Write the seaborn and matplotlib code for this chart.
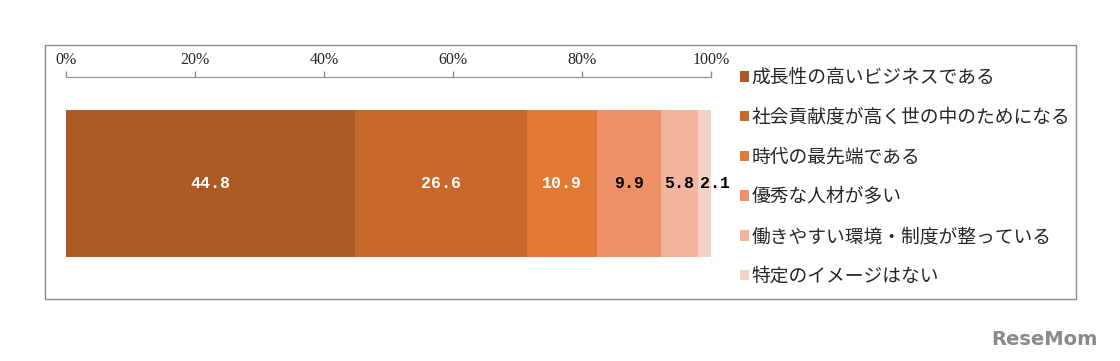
import matplotlib.pyplot as plt
import seaborn as sns
import numpy as np
from matplotlib.patches import Patch, Rectangle

categories = ["成長性の高いビジネスである", "社会貢献度が高く世の中のためになる", "時代の最先端である",
              "優秀な人材が多い", "働きやすい環境・制度が整っている", "特定のイメージはない"]
values = [44.8, 26.6, 10.9, 9.9, 5.8, 2.1]
colors = ["#AD5A24", "#C8692C", "#E07A35", "#EE9168", "#F2B69F", "#F6D2C6"]
label_colors = ["white", "white", "white", "black", "black", "black"]
label_shift = [0, 0, 0, 0, 0, 7]  # points; last label pushed right like the original
tick_labels = ["0%", "20%", "40%", "60%", "80%", "100%"]

sns.set_style("white")
plt.rcParams["font.family"] = ["Noto Sans CJK JP", "DejaVu Sans"]

fig = plt.figure(figsize=(11.2, 3.61), dpi=100)
# outer frame
fig.patches.append(Rectangle((45 / 1120, 1 - 299 / 361), (1076 - 45) / 1120, (299 - 45) / 361,
                             transform=fig.transFigure, fill=False, edgecolor="#8c8c8c", lw=1))

ax = fig.add_axes([66 / 1120, 1 - 290 / 361, (711 - 66) / 1120, (290 - 77) / 361])

cum = np.cumsum(values)
# stacked bar: draw cumulative totals from the largest down
for i in reversed(range(len(values))):
    sns.barplot(x=[cum[i]], y=[0], orient="h", color=colors[i], width=0.69,
                saturation=1, linewidth=0, edgecolor="none", ax=ax)

starts = cum - np.array(values)
for v, s, c, dx in zip(values, starts, label_colors, label_shift):
    ax.annotate(f"{v}", (s + v / 2, 0), xytext=(dx, 0), textcoords="offset points",
                ha="center", va="center", color=c,
                fontsize=12, fontweight="bold", family="Liberation Mono")

ax.set_xlim(0, 100)
ax.set_ylim(0.5, -0.5)
ax.set_yticks([])
ax.set_ylabel("")
ax.set_xticks(range(0, 101, 20))
ax.set_xticklabels(tick_labels, family="Liberation Serif", fontsize=11.5)
ax.xaxis.tick_top()
ax.tick_params(axis="x", direction="out", length=4, color="#8c8c8c", width=1, pad=2.5,
               top=True, bottom=False)
for side in ["left", "right", "bottom"]:
    ax.spines[side].set_visible(False)
ax.spines["top"].set_color("#8c8c8c")

handles = [Patch(facecolor=c, edgecolor="none") for c in colors]
fig.legend(handles, categories, loc="upper left", bbox_to_anchor=(740 / 1120, 1 - 67 / 361),
           frameon=False, fontsize=13.5, handlelength=0.5, handleheight=0.5,
           handletextpad=0.1, labelspacing=1.0, borderpad=0, borderaxespad=0)

fig.text(1098 / 1120, 1 - 345 / 361, "ReseMom", ha="right", va="baseline", color="#8a8a8a",
         fontsize=14, fontweight="bold", family="DejaVu Sans")

fig.savefig("out.png", dpi=100)
